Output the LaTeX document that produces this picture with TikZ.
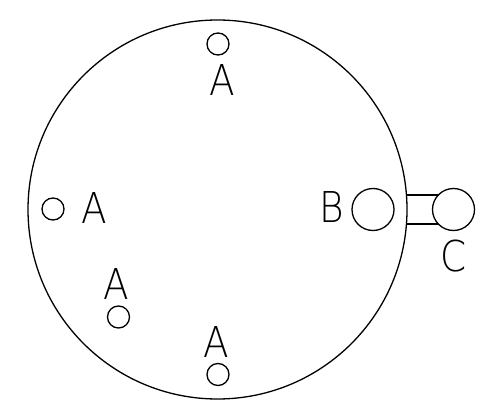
\documentclass[tikz,border=0pt]{standalone}
\usepackage{fontspec}
\newfontfamily\cadfont{DejaVu Sans ExtraLight}
\usetikzlibrary{positioning}

\begin{document}
\begin{tikzpicture}[x=1pt, y=-1pt, line width=1.3pt, node distance=8pt and 8pt]

    \tikzstyle{disc} = [circle, draw, inner sep=0pt, outer sep=0pt]
    \tikzstyle{hole} = [disc, minimum size=22pt]
    \tikzstyle{port} = [disc, minimum size=42pt]
    \tikzstyle{letter} = [inner sep=0pt, outer sep=0pt, xscale=0.88, font=\cadfont\fontsize{42.5}{42.5}\selectfont]

    \useasboundingbox (0,0) rectangle (487,409);

    \node (outer) [disc, minimum size=379pt] at (217.5,209.5) {};

    \node (holeTop) [hole] at (218,44) {};
    \node (holeLeft) [hole] at (53,209) {};
    \node (holeLow) [hole] at (118.5,317) {};
    \node (holeBottom) [hole] at (218,374.5) {};

    \node (letterTop) [letter, below=10pt of holeTop, xshift=5pt] {A};
    \node (letterLeft) [letter, right=17.5pt of holeLeft, yshift=1pt] {A};
    \node (letterLow) [letter, above=6.5pt of holeLow, xshift=-2pt] {A};
    \node (letterBottom) [letter, above=6.5pt of holeBottom, xshift=-2pt] {A};

    \node (portB) [port] at (373,209.5) {};
    \node (portC) [port] at (453.5,209.5) {};
    \node (letterB) [letter, left=8pt of portB, yshift=2pt] {B};
    \node (letterC) [letter, below=9pt of portC] {C};

    \draw (portC.136.4 -| outer.east) -- (portC.136.4);
    \draw (portC.-136.4 -| outer.east) -- (portC.-136.4);

\end{tikzpicture}
\end{document}
